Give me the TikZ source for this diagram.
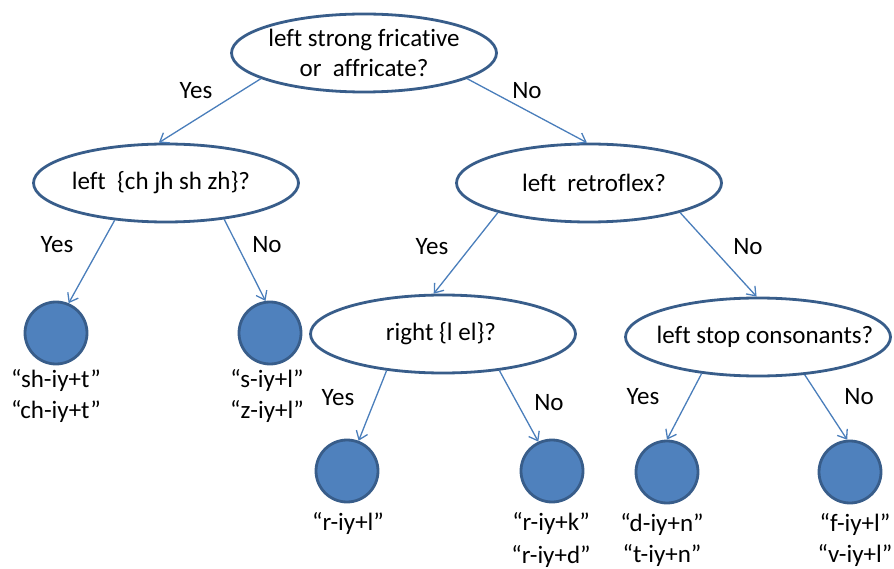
\documentclass[tikz,border=0pt]{standalone}
\usepackage{fontspec}
\setmainfont{Carlito}[Ligatures=NoCommon]
\usetikzlibrary{shapes.geometric,arrows.meta}
\definecolor{edgeblue}{HTML}{385D8A}
\definecolor{fillblue}{HTML}{4F81BD}
\definecolor{arrowblue}{HTML}{4A7EBB}
\begin{document}
\begin{tikzpicture}[x=1pt,y=-1pt,
  font=\fontsize{25}{30}\selectfont,
  question/.style={ellipse, draw=edgeblue, line width=2.8pt, fill=white,
    minimum width=265pt, minimum height=78pt, inner sep=0pt},
  qtext/.style={inner sep=0pt, align=center},
  leaf/.style={circle, draw=edgeblue, line width=2.8pt, fill=fillblue,
    minimum size=62pt, inner sep=0pt},
  branch/.style={draw=arrowblue, line width=1.3pt,
    -{Straight Barb[length=8pt,width=12pt]}},
  ans/.style={inner sep=0pt},
  lbl/.style={inner sep=0pt, anchor=base}]
\useasboundingbox (0,0) rectangle (894,569);

% questions
\node[question] (q1) at (364,53) {};
\node[question] (q2) at (166,183) {};
\node[question] (q3) at (589,183) {};
\node[question] (q4) at (443,334) {};
\node[question] (q5) at (758,337) {};
\node[qtext] (q1t) at (364,53) {left strong fricative\\or~~affricate?};
\node[qtext] (q2t) at (161,183) {left~~\{ch jh sh zh\}?};
\node[qtext] (q3t) at (594,183) {left~~retroflex?};
\node[qtext] (q4t) at (441,334) {right \{l el\}?};
\node[qtext] (q5t) at (765,337) {left stop consonants?};

% leaves
\node[leaf] (l1) at (56,333) {};
\node[leaf] (l2) at (270,333) {};
\node[leaf] (l3) at (347,471) {};
\node[leaf] (l4) at (552,471) {};
\node[leaf] (l5) at (667,472) {};
\node[leaf] (l6) at (850,472) {};

% branches
\draw[branch] (q1.194) -- (q2.100);
\draw[branch] (q1.346) -- (q3.93);
\draw[branch] (q2.216) -- (l1.67);
\draw[branch] (q2.328) -- (l2.98);
\draw[branch] (q3.198) -- (q4.103);
\draw[branch] (q3.342) -- (q5.92);
\draw[branch] (q4.213) -- (l3.69);
\draw[branch] (q4.327) -- (l4.115);
\draw[branch] (q5.213) -- (l5.90);
\draw[branch] (q5.321) -- (l6.95);

% answers
\node[ans] (a1) at (196,91) {Yes};
\node[ans] (a2) at (527,91) {No};
\node[ans] (a3) at (57,245) {Yes};
\node[ans] (a4) at (267,245) {No};
\node[ans] (a5) at (432,247) {Yes};
\node[ans] (a6) at (748,247) {No};
\node[ans] (a7) at (338,398) {Yes};
\node[ans] (a8) at (549,403) {No};
\node[ans] (a9) at (643,397) {Yes};
\node[ans] (a10) at (859,397) {No};

% leaf labels
\node[lbl] (t1a) at (56,387) {“sh-iy+t”};
\node[lbl] (t1b) at (56,418) {“ch-iy+t”};
\node[lbl] (t2a) at (267,387) {“s-iy+l”};
\node[lbl] (t2b) at (267,418) {“z-iy+l”};
\node[lbl] (t3a) at (348,530) {“r-iy+l”};
\node[lbl] (t4a) at (551,530) {“r-iy+k”};
\node[lbl] (t4b) at (551,563) {“r-iy+d”};
\node[lbl] (t5a) at (662,531) {“d-iy+n”};
\node[lbl] (t5b) at (662,562) {“t-iy+n”};
\node[lbl] (t6a) at (855,531) {“f-iy+l”};
\node[lbl] (t6b) at (855,562) {“v-iy+l”};
\end{tikzpicture}
\end{document}
